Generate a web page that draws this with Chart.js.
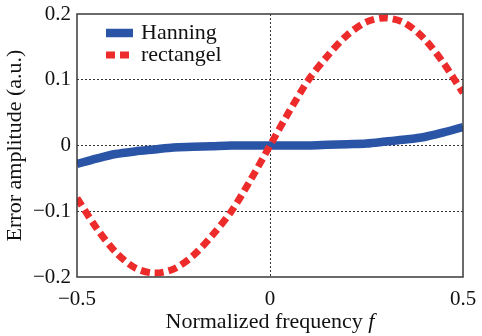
<!DOCTYPE html>
<html>
<head>
<meta charset="utf-8">
<script src="https://cdn.jsdelivr.net/npm/chart.js@4.4.1/dist/chart.umd.min.js"></script>
<style>
  body { margin: 0; background: #fff; }
  #wrap { width: 482px; height: 336px; }
</style>
</head>
<body>
<div id="wrap"><canvas id="chart" width="482" height="336"></canvas></div>
<script>
// values
const freq = [-0.5, -0.45, -0.4, -0.35, -0.3, -0.25, -0.2, -0.15, -0.1, -0.05, 0,
              0.05, 0.1, 0.15, 0.2, 0.25, 0.3, 0.35, 0.4, 0.45, 0.5]
const hanning = [-0.028, -0.02, -0.013, -0.009, -0.006, -0.003, -0.002, -0.001, 0, 0, 0,
                 0, 0, 0.001, 0.002, 0.003, 0.006, 0.009, 0.013, 0.02, 0.028]
const rectangel = [-0.08, -0.125, -0.162, -0.186, -0.194, -0.188, -0.168, -0.137, -0.1, -0.052, 0,
                   0.052, 0.1, 0.137, 0.168, 0.188, 0.194, 0.186, 0.162, 0.125, 0.08]
const xTicks = [-0.5, 0, 0.5]
const yTicks = [-0.2, -0.1, 0, 0.1, 0.2]

const serif = '"Liberation Serif", "Times New Roman", serif'
const blue = '#2a55a6'
const red = '#ee2b2b'

const toPoints = (ys) => freq.map((f, i) => ({ x: f, y: ys[i] }))
const fmt = (v) => String(parseFloat(v.toFixed(1))).replace('-', '\u2212')

// frame, axis titles and the legend inside the plot
const decorations = {
    id: 'decorations',
    afterDraw(chart) {
        const { ctx, chartArea: a } = chart
        ctx.save()
        ctx.strokeStyle = '#3a3a3a'
        ctx.lineWidth = 1.5
        ctx.strokeRect(a.left, a.top, a.right - a.left, a.bottom - a.top)

        ctx.fillStyle = '#111'
        ctx.font = '22px ' + serif
        ctx.textBaseline = 'middle'

        // x title with italic f
        const main = 'Normalized frequency '
        const wMain = ctx.measureText(main).width
        ctx.font = 'italic 22px ' + serif
        const wF = ctx.measureText('f').width
        const x0 = (a.left + a.right) / 2 - (wMain + wF) / 2
        ctx.font = '22px ' + serif
        ctx.textAlign = 'left'
        ctx.fillText(main, x0, 322)
        ctx.font = 'italic 22px ' + serif
        ctx.fillText('f', x0 + wMain, 322)

        // y title
        ctx.font = '22px ' + serif
        ctx.translate(15, (a.top + a.bottom) / 2)
        ctx.rotate(-Math.PI / 2)
        ctx.textAlign = 'center'
        ctx.fillText('Error amplitude (a.u.)', 0, 0)
        ctx.restore()

        // legend
        ctx.save()
        ctx.font = '22px ' + serif
        ctx.textBaseline = 'middle'
        ctx.textAlign = 'left'
        chart.data.datasets.forEach((ds, i) => {
            const y = 33 + i * 22
            ctx.strokeStyle = ds.borderColor
            ctx.lineWidth = ds.borderWidth
            ctx.setLineDash(ds.borderDash || [])
            ctx.beginPath()
            ctx.moveTo(106, y)
            ctx.lineTo(133, y)
            ctx.stroke()
            ctx.fillStyle = '#111'
            ctx.fillText(ds.label, 141, y)
        })
        ctx.restore()
    }
}

const ctx = document.getElementById('chart').getContext('2d')
const chart = new Chart(ctx, {
    type: 'scatter',
    data: {
        datasets: [
            {
                label: 'Hanning',
                data: toPoints(hanning),
                showLine: true,
                borderColor: blue,
                backgroundColor: blue,
                borderWidth: 8.5,
                pointRadius: 0,
                tension: 0.3,
                clip: 0,
                order: 1
            },
            {
                label: 'rectangel',
                data: toPoints(rectangel),
                showLine: true,
                borderColor: red,
                backgroundColor: red,
                borderWidth: 7,
                borderDash: [9, 5],
                borderCapStyle: 'butt',
                pointRadius: 0,
                tension: 0.3,
                clip: 0,
                order: 0
            }
        ]
    },
    options: {
        responsive: false,
        devicePixelRatio: 1,
        animation: false,
        layout: { padding: { left: 0, top: 14, right: 19, bottom: 0 } },
        plugins: {
            legend: { display: false },
            tooltip: { enabled: false }
        },
        scales: {
            x: {
                type: 'linear',
                min: -0.5,
                max: 0.5,
                afterBuildTicks: (scale) => { scale.ticks = xTicks.map(v => ({ value: v })) },
                afterFit: (scale) => {
                    scale.height = 59
                    scale.paddingLeft = 0
                    scale.paddingRight = 0
                },
                ticks: {
                    padding: 10,
                    color: '#111',
                    font: { family: serif, size: 21 },
                    callback: (v) => fmt(v)
                },
                grid: {
                    drawTicks: false,
                    color: (c) => (c.tick && c.tick.value === 0 ? '#333' : 'rgba(0,0,0,0)'),
                    lineWidth: 1
                },
                border: { display: false, dash: [2, 2] }
            },
            y: {
                type: 'linear',
                min: -0.2,
                max: 0.2,
                afterBuildTicks: (scale) => { scale.ticks = yTicks.map(v => ({ value: v })) },
                afterFit: (scale) => {
                    scale.width = 77
                    scale.paddingTop = 0
                    scale.paddingBottom = 0
                },
                ticks: {
                    padding: 6,
                    color: '#111',
                    font: { family: serif, size: 21 },
                    callback: (v) => fmt(v)
                },
                grid: {
                    drawTicks: false,
                    color: (c) => (c.tick && Math.abs(c.tick.value) < 0.15 ? '#333' : 'rgba(0,0,0,0)'),
                    lineWidth: 1
                },
                border: { display: false, dash: [2, 2] }
            }
        }
    },
    plugins: [decorations]
})
</script>
</body>
</html>
